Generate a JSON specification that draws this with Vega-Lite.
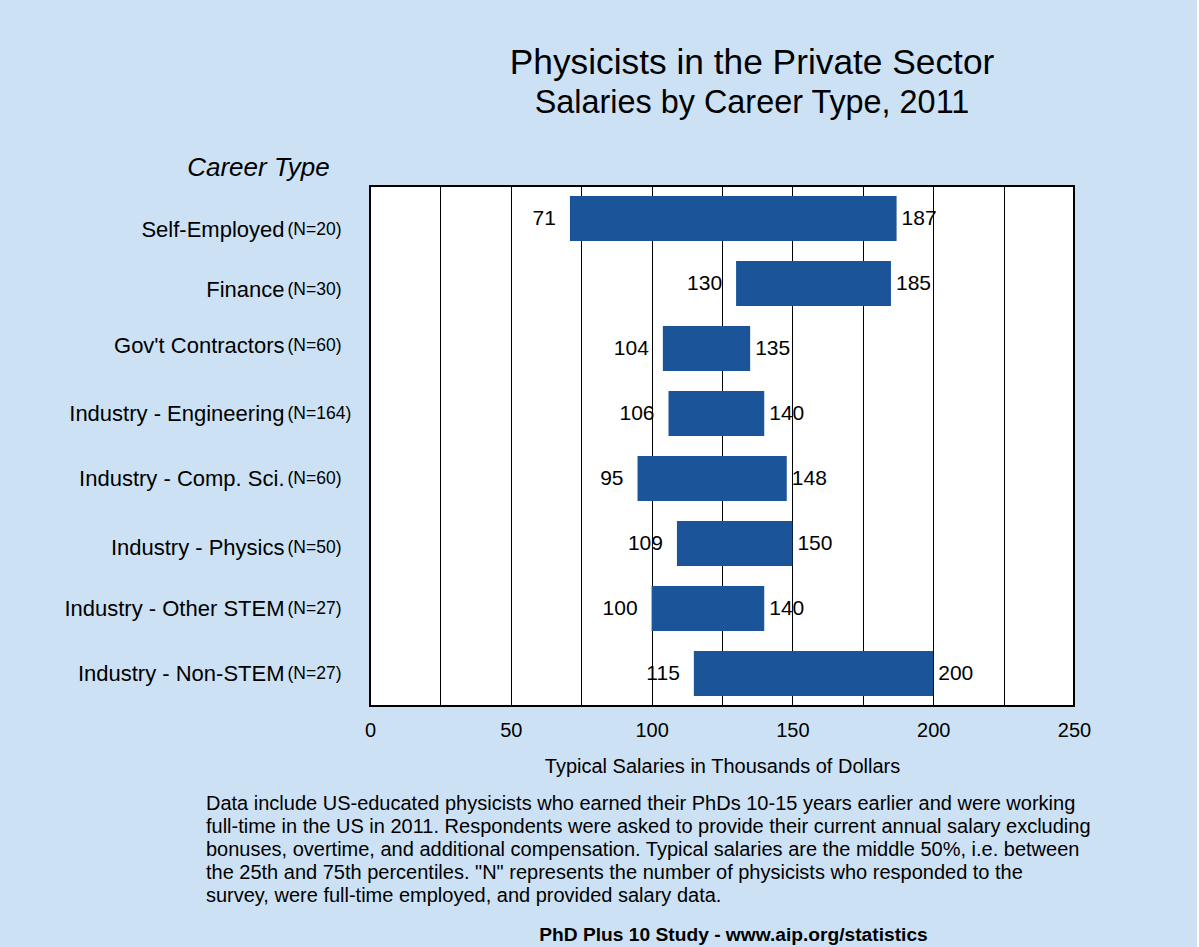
{
  "$schema": "https://vega.github.io/schema/vega-lite/v6.json",
  "background": "#cce2f4",
  "padding": {"left": 62, "top": 45, "right": 100, "bottom": 3},
  "config": {
    "font": "Liberation Sans",
    "view": {"stroke": "black", "strokeWidth": 2, "fill": "white"},
    "axis": {"labelColor": "black", "titleColor": "black", "labelFont": "Liberation Sans", "titleFont": "Liberation Sans", "titleFontWeight": "normal"},
    "title": {"color": "black", "subtitleColor": "black", "fontWeight": "normal", "font": "Liberation Sans", "subtitleFont": "Liberation Sans"}
  },
  "title": {"text": "PhD Plus 10 Study - www.aip.org/statistics", "orient": "bottom", "anchor": "middle", "fontSize": 19.2, "fontWeight": "bold", "offset": 20, "dx": 154},
  "vconcat": [
    {
      "title": {
        "text": [
          "Data include US-educated physicists who earned their PhDs 10-15 years earlier and were working",
          "full-time in the US in 2011.  Respondents were asked to provide their current annual salary excluding",
          "bonuses, overtime, and additional compensation.  Typical salaries are the middle 50%, i.e. between",
          "the 25th and 75th percentiles.  \"N\" represents the number of physicists who responded to the",
          "survey, were full-time employed, and provided salary data."
        ],
        "orient": "bottom", "anchor": "start", "fontSize": 20, "fontWeight": "normal", "lineHeight": 23, "offset": 17, "dx": 143
      },
      "vconcat": [
        {
          "width": 704,
          "height": 520,
          "title": {"text": "Physicists in the Private Sector", "subtitle": "Salaries by Career Type, 2011", "fontSize": 35.3, "subtitleFontSize": 32.4, "anchor": "middle", "frame": "group", "dx": 30, "offset": 35, "subtitlePadding": 5},
          "data": {"values": [
            {"cat": "Self-Employed|(N=20)", "lo": 71, "hi": 187},
            {"cat": "Finance|(N=30)", "lo": 130, "hi": 185},
            {"cat": "Gov't Contractors|(N=60)", "lo": 104, "hi": 135},
            {"cat": "Industry - Engineering|(N=164)", "lo": 106, "hi": 140},
            {"cat": "Industry - Comp. Sci.|(N=60)", "lo": 95, "hi": 148},
            {"cat": "Industry - Physics|(N=50)", "lo": 109, "hi": 150},
            {"cat": "Industry - Other STEM|(N=27)", "lo": 100, "hi": 140},
            {"cat": "Industry - Non-STEM|(N=27)", "lo": 115, "hi": 200}
          ]},
          "layer": [
            {
              "mark": {"type": "bar", "color": "#1c5499"},
              "encoding": {
                "y": {"field": "cat", "type": "nominal", "sort": null, "scale": {"paddingInner": 0.31, "paddingOuter": 0.155},
                  "axis": {"orient": "left", "title": "Career Type", "titleAngle": 0, "titleFontSize": 26, "titleFontStyle": "italic", "titleAlign": "center", "titleBaseline": "alphabetic", "titleX": -112, "titleY": -11,
                    "labelExpr": "split(datum.value, '|')[0]", "labelFontSize": 22, "labelPadding": 86, "labelLimit": 400, "ticks": false, "domain": false, "grid": false,
                    "labelOffset": {"condition": [
                      {"test": "datum.value === 'Self-Employed|(N=20)'", "value": 11},
                      {"test": "datum.value === 'Finance|(N=30)'", "value": 6},
                      {"test": "datum.value === 'Industry - Physics|(N=50)'", "value": 4},
                      {"test": "datum.value === 'Gov\\'t Contractors|(N=60)'", "value": -3}
                    ], "value": 0}}},
                "x": {"field": "lo", "type": "quantitative", "scale": {"domain": [0, 250], "nice": false},
                  "axis": {"title": "Typical Salaries in Thousands of Dollars", "values": [0, 25, 50, 75, 100, 125, 150, 175, 200, 225, 250],
                    "labelExpr": "datum.value % 50 === 0 ? datum.label : ''", "grid": true, "gridColor": "black", "gridOpacity": 1, "gridWidth": 1,
                    "ticks": false, "domain": false, "labelFontSize": 20, "titleFontSize": 20, "labelPadding": 14, "titlePadding": 16, "labelFlush": false, "labelOverlap": false}},
                "x2": {"field": "hi"}
              }
            },
            {
              "mark": {"type": "text", "align": "right", "baseline": "middle", "dx": -14, "fontSize": 21, "color": "black"},
              "encoding": {
                "y": {"field": "cat", "type": "nominal", "sort": null, "scale": {"paddingInner": 0.31, "paddingOuter": 0.155},
                  "axis": {"orient": "left", "title": null, "labelExpr": "split(datum.value, '|')[1]", "labelAlign": "left", "labelFontSize": 17.5, "labelPadding": 83, "labelLimit": 200, "ticks": false, "domain": false, "grid": false,
                    "labelOffset": {"condition": [
                      {"test": "datum.value === 'Self-Employed|(N=20)'", "value": 11},
                      {"test": "datum.value === 'Finance|(N=30)'", "value": 6},
                      {"test": "datum.value === 'Industry - Physics|(N=50)'", "value": 4},
                      {"test": "datum.value === 'Gov\\'t Contractors|(N=60)'", "value": -3}
                    ], "value": 0}}},
                "x": {"field": "lo", "type": "quantitative", "scale": {"domain": [0, 250], "nice": false},
                  "axis": {"title": "Typical Salaries in Thousands of Dollars", "values": [0, 25, 50, 75, 100, 125, 150, 175, 200, 225, 250],
                    "labelExpr": "datum.value % 50 === 0 ? datum.label : ''", "grid": true, "gridColor": "black", "gridOpacity": 1, "gridWidth": 1,
                    "ticks": false, "domain": false, "labelFontSize": 20, "titleFontSize": 20, "labelPadding": 14, "titlePadding": 16, "labelFlush": false, "labelOverlap": false}},
                "text": {"field": "lo", "type": "quantitative"}
              }
            },
            {
              "mark": {"type": "text", "align": "left", "baseline": "middle", "dx": 5, "fontSize": 21, "color": "black"},
              "encoding": {
                "y": {"field": "cat", "type": "nominal", "sort": null, "axis": null},
                "x": {"field": "hi", "type": "quantitative", "scale": {"domain": [0, 250], "nice": false},
                  "axis": {"title": "Typical Salaries in Thousands of Dollars", "values": [0, 25, 50, 75, 100, 125, 150, 175, 200, 225, 250],
                    "labelExpr": "datum.value % 50 === 0 ? datum.label : ''", "grid": true, "gridColor": "black", "gridOpacity": 1, "gridWidth": 1,
                    "ticks": false, "domain": false, "labelFontSize": 20, "titleFontSize": 20, "labelPadding": 14, "titlePadding": 16, "labelFlush": false, "labelOverlap": false}},
                "text": {"field": "hi", "type": "quantitative"}
              }
            }
          ],
          "resolve": {"axis": {"y": "independent"}}
        }
      ]
    }
  ]
}
